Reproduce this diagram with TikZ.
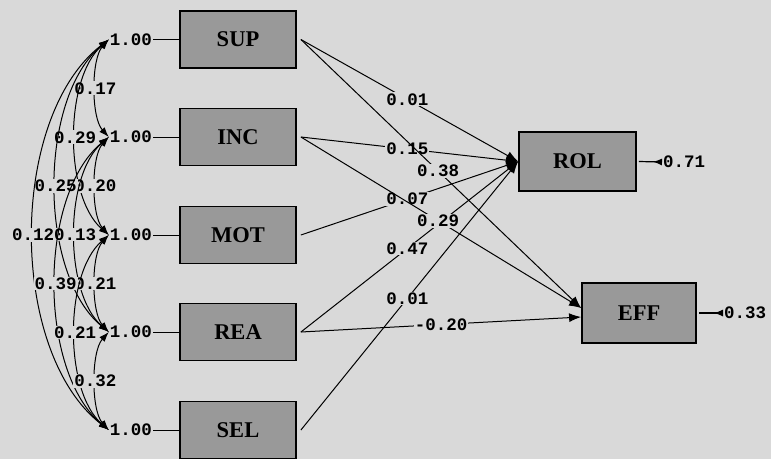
\documentclass[tikz,border=0pt]{standalone}
\usepackage{fontspec}
\setmainfont{Liberation Serif}
\newfontfamily\monof{Liberation Mono}
\usetikzlibrary{arrows.meta}
\definecolor{bg}{HTML}{D9D9D9}
\definecolor{boxgray}{HTML}{999999}
\begin{document}
\begin{tikzpicture}[x=1pt,y=-1pt,
  var/.style={draw, line width=1.8pt, fill=boxgray, minimum width=116pt, minimum height=57pt, inner sep=0pt, font=\bfseries\fontsize{22.5}{24}\selectfont},
  lab/.style={fill=bg, inner sep=1pt, font=\monof\bfseries\fontsize{17.5}{18}\selectfont},
  vlab/.style={inner sep=1pt, font=\monof\bfseries\fontsize{17.5}{18}\selectfont},
  pth/.style={line width=1pt, -{Latex[length=12pt,width=9pt]}},
  cov/.style={line width=1pt, {Latex[length=10pt,width=7pt]}-{Latex[length=10pt,width=7pt]}},
  err/.style={line width=1.2pt, {Latex[length=9pt,width=7pt,reversed]}-},
  plain/.style={line width=1pt}
  ]
\fill[bg] (0,0) rectangle (771,459);
\useasboundingbox (0,0) rectangle (771,459);

% exogenous boxes
\node[var] (SUP) at (238,39.5) {SUP};
\node[var] (INC) at (238,137) {INC};
\node[var] (MOT) at (238,235) {MOT};
\node[var] (REA) at (238,332) {REA};
\node[var] (SEL) at (238,430) {SEL};
% endogenous boxes
\node[var, minimum width=117pt, minimum height=59pt] (ROL) at (577.5,161.5) {ROL};
\node[var, minimum width=114pt, minimum height=60pt] (EFF) at (639,313) {EFF};

% variances
\node[vlab] (v1) at (131,39.5) {1.00};
\node[vlab] (v2) at (131,137) {1.00};
\node[vlab] (v3) at (131,235) {1.00};
\node[vlab] (v4) at (131,332) {1.00};
\node[vlab] (v5) at (131,430) {1.00};
\foreach \v/\b in {v1/SUP,v2/INC,v3/MOT,v4/REA,v5/SEL}
  \draw[plain] (\v.east) -- (\b.west);

% covariances
\draw[cov] (v1.west) .. controls (91,59) and (91,117.5) .. node[lab]{0.17} (v2.west);
\draw[cov] (v1.west) .. controls (64,78.6) and (64,195.9) .. node[lab]{0.29} (v3.west);
\draw[cov] (v2.west) .. controls (91,156.6) and (91,215.4) .. node[lab]{0.20} (v3.west);
\draw[cov] (v1.west) .. controls (38,98) and (38,273.5) .. node[lab]{0.25} (v4.west);
\draw[cov] (v2.west) .. controls (64,176) and (64,293) .. node[lab]{0.13} (v4.west);
\draw[cov] (v3.west) .. controls (91,254.4) and (91,312.6) .. node[lab]{0.21} (v4.west);
\draw[cov] (v1.west) .. controls (8,117.6) and (8,351.9) .. node[lab]{0.12} (v5.west);
\draw[cov] (v2.west) .. controls (38,195.6) and (38,371.4) .. node[lab]{0.39} (v5.west);
\draw[cov] (v3.west) .. controls (64,274) and (64,391) .. node[lab]{0.21} (v5.west);
\draw[cov] (v4.west) .. controls (91,351.6) and (91,410.4) .. node[lab]{0.32} (v5.west);

% structural paths
\draw[pth] ([xshift=4pt]SUP.east) -- node[lab,pos=0.49]{0.01} (ROL.west);
\draw[pth] ([xshift=4pt]INC.east) -- node[lab,pos=0.49]{0.15} (ROL.west);
\draw[pth] ([xshift=4pt]MOT.east) -- node[lab,pos=0.49]{0.07} (ROL.west);
\draw[pth] ([xshift=4pt]REA.east) -- node[lab,pos=0.49]{0.47} (ROL.west);
\draw[pth] ([xshift=4pt]SEL.east) -- node[lab,pos=0.49]{0.01} (ROL.west);
\draw[pth] ([xshift=4pt]SUP.east) -- node[lab,pos=0.49]{0.38} ([yshift=5pt]EFF.west);
\draw[pth] ([xshift=4pt]INC.east) -- node[lab,pos=0.49]{0.29} ([yshift=5pt]EFF.west);
\draw[pth] ([xshift=4pt]REA.east) -- node[lab,pos=0.5]{-0.20} ([yshift=-4pt]EFF.west);

% error variances
\node[vlab, anchor=west] (e1) at (662,162) {0.71};
\node[vlab, anchor=west] (e2) at (723,313) {0.33};
\draw[err] (e1.west) -- ([xshift=2pt]ROL.east);
\draw[err] (e2.west) -- ([xshift=2pt]EFF.east);
\end{tikzpicture}
\end{document}
